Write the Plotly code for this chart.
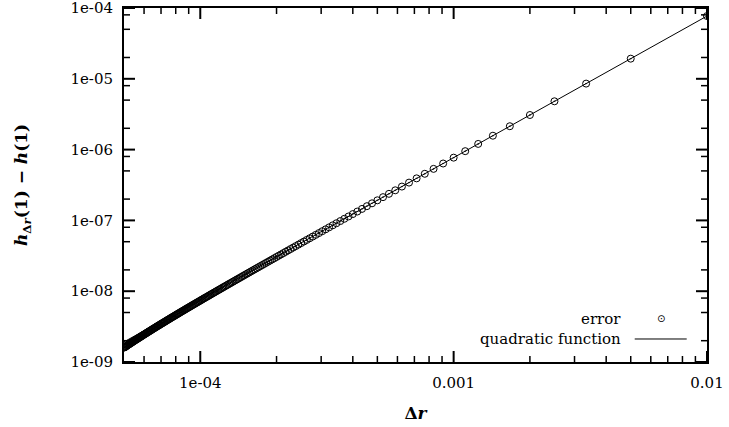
import plotly.graph_objects as go

# Step sizes (Delta r) of the computed points
dr = [1/100, 1/200, 1/300, 1/400, 1/500, 1/600, 1/700, 1/800, 1/900, 1/1000,
      1/1100, 1/1200, 1/1300, 1/1400, 1/1500, 1/1600, 1/1700, 1/1800, 1/1900, 1/2000,
      1/2100, 1/2200, 1/2300, 1/2400, 1/2500, 1/2600, 1/2700, 1/2800, 1/2900, 1/3000,
      1/3100, 1/3200, 1/3300, 1/3400, 1/3500, 1/3600, 1/3700, 1/3800, 1/3900, 1/4000,
      1/4100, 1/4200, 1/4300, 1/4400, 1/4500, 1/4600, 1/4700, 1/4800, 1/4900, 1/5000,
      1/5100, 1/5200, 1/5300, 1/5400, 1/5500, 1/5600, 1/5700, 1/5800, 1/5900, 1/6000,
      1/6100, 1/6200, 1/6300, 1/6400, 1/6500, 1/6600, 1/6700, 1/6800, 1/6900, 1/7000,
      1/7100, 1/7200, 1/7300, 1/7400, 1/7500, 1/7600, 1/7700, 1/7800, 1/7900, 1/8000,
      1/8100, 1/8200, 1/8300, 1/8400, 1/8500, 1/8600, 1/8700, 1/8800, 1/8900, 1/9000,
      1/9100, 1/9200, 1/9300, 1/9400, 1/9500, 1/9600, 1/9700, 1/9800, 1/9900, 1/10000,
      1/10100, 1/10200, 1/10300, 1/10400, 1/10500, 1/10600, 1/10700, 1/10800, 1/10900, 1/11000,
      1/11100, 1/11200, 1/11300, 1/11400, 1/11500, 1/11600, 1/11700, 1/11800, 1/11900, 1/12000,
      1/12100, 1/12200, 1/12300, 1/12400, 1/12500, 1/12600, 1/12700, 1/12800, 1/12900, 1/13000,
      1/13100, 1/13200, 1/13300, 1/13400, 1/13500, 1/13600, 1/13700, 1/13800, 1/13900, 1/14000,
      1/14100, 1/14200, 1/14300, 1/14400, 1/14500, 1/14600, 1/14700, 1/14800, 1/14900, 1/15000,
      1/15100, 1/15200, 1/15300, 1/15400, 1/15500, 1/15600, 1/15700, 1/15800, 1/15900, 1/16000,
      1/16100, 1/16200, 1/16300, 1/16400, 1/16500, 1/16600, 1/16700, 1/16800, 1/16900, 1/17000,
      1/17100, 1/17200, 1/17300, 1/17400, 1/17500, 1/17600, 1/17700, 1/17800, 1/17900, 1/18000,
      1/18100, 1/18200, 1/18300, 1/18400, 1/18500, 1/18600, 1/18700, 1/18800, 1/18900, 1/19000,
      1/19100, 1/19200, 1/19300, 1/19400, 1/19500, 1/19600, 1/19700, 1/19800, 1/19900, 1/20000]

# Error h_dr(1) - h(1), in units of 1e-9
error_nano = [77000, 19250, 8555, 4812, 3080, 2139, 1571, 1203, 950.3, 769.7,
              636.1, 534.4, 455.3, 392.6, 341.9, 300.5, 266.1, 237.4, 213.0, 192.2,
              174.3, 158.8, 145.3, 133.4, 122.9, 113.6, 105.3, 97.88, 91.23, 85.23,
              79.79, 74.87, 70.38, 66.28, 62.53, 59.08, 55.92, 52.99, 50.29, 47.80,
              45.48, 43.32, 41.31, 39.44, 37.69, 36.06, 34.53, 33.09, 31.74, 30.47,
              29.27, 28.15, 27.08, 26.08, 25.12, 24.22, 23.37, 22.56, 21.79, 21.06,
              20.36, 19.70, 19.07, 18.47, 17.89, 17.35, 16.82, 16.32, 15.84, 15.38,
              14.94, 14.52, 14.12, 13.73, 13.36, 13.00, 12.66, 12.33, 12.01, 11.70,
              11.41, 11.12, 10.85, 10.58, 10.33, 10.08, 9.84, 9.61, 9.39, 9.18,
              8.97, 8.77, 8.57, 8.38, 8.20, 8.03, 7.85, 7.69, 7.53, 7.37,
              7.22, 7.07, 6.93, 6.79, 6.65, 6.52, 6.40, 6.27, 6.15, 6.03,
              5.92, 5.81, 5.70, 5.60, 5.49, 5.39, 5.30, 5.20, 5.11, 5.02,
              4.93, 4.84, 4.76, 4.68, 4.60, 4.52, 4.44, 4.37, 4.30, 4.23,
              4.16, 4.09, 4.02, 3.96, 3.90, 3.83, 3.77, 3.71, 3.66, 3.60,
              3.54, 3.49, 3.44, 3.38, 3.33, 3.28, 3.23, 3.19, 3.14, 3.09,
              3.05, 3.00, 2.96, 2.92, 2.88, 2.83, 2.79, 2.75, 2.72, 2.68,
              2.64, 2.60, 2.57, 2.53, 2.50, 2.46, 2.43, 2.40, 2.37, 2.33,
              2.30, 2.27, 2.24, 2.21, 2.18, 2.16, 2.13, 2.10, 2.07, 2.05,
              2.02, 2.00, 1.97, 1.94, 1.92, 1.90, 1.87, 1.85, 1.83, 1.80,
              1.78, 1.76, 1.74, 1.72, 1.70, 1.67, 1.65, 1.63, 1.61, 1.60]
error = [v * 1e-9 for v in error_nano]

# Quadratic reference line (straight on log-log axes): end points
quad_dr = [5e-5, 1e-2]
quad_val = [1.925e-9, 7.7e-5]

# Axis ticks
x_range = [-4.30103, -2]
y_range = [-9, -4]
x_tickvals = [1e-4, 1e-3, 1e-2]
x_ticktext = ["1e-04", "0.001", "0.01"]
y_tickvals = [1e-9, 1e-8, 1e-7, 1e-6, 1e-5, 1e-4]
y_ticktext = ["1e-09", "1e-08", "1e-07", "1e-06", "1e-05", "1e-04"]
x_minor = [6e-5, 7e-5, 8e-5, 9e-5,
           2e-4, 3e-4, 4e-4, 5e-4, 6e-4, 7e-4, 8e-4, 9e-4,
           2e-3, 3e-3, 4e-3, 5e-3, 6e-3, 7e-3, 8e-3, 9e-3]
y_minor = [2e-9, 5e-9, 8e-9, 2e-8, 5e-8, 8e-8, 2e-7, 5e-7, 8e-7,
           2e-6, 5e-6, 8e-6, 2e-5, 5e-5, 8e-5]

# Key (legend) placement in plot-area fractions
key_text_x = 0.856
key_sample_x = 0.9206
key_line_x1 = 0.9652
key_rows_y = [0.1215, 0.065]

# Tick mark lengths (px) and plot-area size (px) from the margins
W, H = 729, 427
M = dict(l=124, r=22, t=8, b=65)
PW, PH = W - M["l"] - M["r"], H - M["t"] - M["b"]
MAJOR_LEN, MINOR_LEN = 11, 6

SERIF = "DejaVu Serif"

fig = go.Figure(go.Scatter(
    x=dr, y=error, mode="markers",
    marker=dict(symbol="circle-open-dot", size=7, color="black",
                line=dict(width=1, color="black")),
    name="error"))
fig.add_trace(go.Scatter(
    x=quad_dr, y=quad_val, mode="lines",
    line=dict(color="black", width=1), name="quadratic function"))

fig.update_layout(
    width=W, height=H, template="none",
    margin=M,
    showlegend=False,
    font=dict(family=SERIF, size=15, color="black"),
    xaxis=dict(type="log", range=x_range, showline=True, linecolor="black", linewidth=2,
               mirror=True, ticks="", showgrid=False, zeroline=False,
               tickmode="array", tickvals=x_tickvals, ticktext=x_ticktext,
               tickfont=dict(family=SERIF, size=15, color="black"),
               ticklabeloverflow="allow", ticklabelstandoff=6,
               title=dict(text="<b>Δ<i>r</i></b>",
                          font=dict(family=SERIF, size=17, color="black"), standoff=16)),
    yaxis=dict(type="log", range=y_range, showline=True, linecolor="black", linewidth=2,
               mirror=True, ticks="", showgrid=False, zeroline=False,
               tickmode="array", tickvals=y_tickvals, ticktext=y_ticktext,
               tickfont=dict(family=SERIF, size=15, color="black"),
               ticklabeloverflow="allow", ticklabelstandoff=6,
               title=dict(text="<b><i>h</i><sub>Δ<i>r</i></sub>(1) − <i>h</i>(1)</b>",
                          font=dict(family=SERIF, size=17, color="black"), standoff=38)),
)

# Tick marks, drawn inward on all four sides at the tick values
tick_sets_x = [(v, MAJOR_LEN, 2) for v in x_tickvals] + [(v, MINOR_LEN, 1.5) for v in x_minor]
for v, ln, w in tick_sets_x:
    f = ln / PH
    fig.add_shape(type="line", xref="x", yref="paper", x0=v, x1=v, y0=0, y1=f,
                  line=dict(color="black", width=w))
    fig.add_shape(type="line", xref="x", yref="paper", x0=v, x1=v, y0=1, y1=1 - f,
                  line=dict(color="black", width=w))
tick_sets_y = [(v, MAJOR_LEN, 2) for v in y_tickvals] + [(v, MINOR_LEN, 1.5) for v in y_minor]
for v, ln, w in tick_sets_y:
    f = ln / PW
    fig.add_shape(type="line", xref="paper", yref="y", x0=0, x1=f, y0=v, y1=v,
                  line=dict(color="black", width=w))
    fig.add_shape(type="line", xref="paper", yref="y", x0=1, x1=1 - f, y0=v, y1=v,
                  line=dict(color="black", width=w))

key_font = dict(family=SERIF, size=15, color="black")
fig.add_annotation(x=key_text_x, y=key_rows_y[0], xref="paper", yref="paper", text="error",
                   showarrow=False, xanchor="right", yanchor="middle", font=key_font)
fig.add_annotation(x=key_text_x, y=key_rows_y[1], xref="paper", yref="paper",
                   text="quadratic function",
                   showarrow=False, xanchor="right", yanchor="middle", font=key_font)
fig.add_annotation(x=key_sample_x, y=key_rows_y[0], xref="paper", yref="paper", text="⊙",
                   showarrow=False, xanchor="center", yanchor="middle",
                   font=dict(family="DejaVu Sans", size=10, color="black"))
fig.add_shape(type="line", xref="paper", yref="paper",
              x0=key_line_x1 - 52 / PW, x1=key_line_x1, y0=key_rows_y[1], y1=key_rows_y[1],
              line=dict(color="black", width=1))

fig.write_html("out.html")
